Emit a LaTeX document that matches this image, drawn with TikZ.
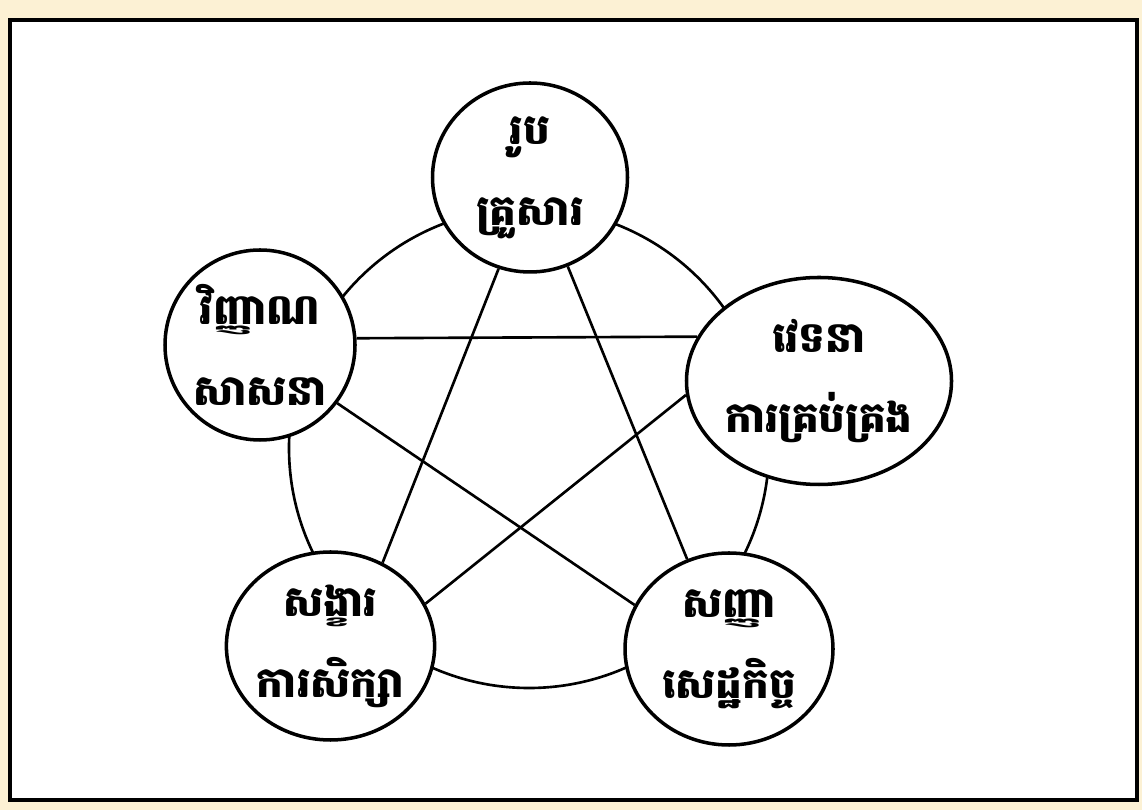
\documentclass[tikz,border=0pt]{standalone}
\usepackage{fontspec}
\newfontfamily\khmerfont[Script=Khmer]{Battambang}
\usetikzlibrary{shapes.geometric}
\definecolor{paper}{HTML}{FCF1D4}

\begin{document}
\begin{tikzpicture}[every node/.style={font=\khmerfont\bfseries\fontsize{24}{46}\selectfont},skandha/.style={ellipse,draw,line width=2pt,fill=white,align=center,inner sep=0pt},link/.style={line width=1.5pt}]
\fill[paper] (0,0) rectangle (22.84,16.2);
\draw[line width=2pt,fill=white] (0.2,0.2) rectangle (22.74,15.8);
\coordinate (hub) at (10.58,7.24);
\draw[link] (hub) circle (4.8);
\node[skandha,minimum width=3.9cm,minimum height=3.78cm] (rupa) at (10.6,12.65) {រូប\\គ្រួសារ};
\node[skandha,minimum width=3.8cm,minimum height=3.8cm] (vinnana) at (5.2,9.3) {វិញ្ញាណ\\សាសនា};
\node[skandha,minimum width=4.64cm,minimum height=4.14cm] (vedana) at (16.38,8.58) {វេទនា\\ការគ្រប់គ្រង};
\node[skandha,minimum width=4.1cm,minimum height=3.76cm] (sankhara) at (6.61,3.28) {សង្ខារ\\ការសិក្សា};
\node[skandha,minimum width=4.16cm,minimum height=3.84cm] (sanna) at (14.58,3.22) {សញ្ញា\\សេដ្ឋកិច្ច};
\draw[link] (rupa.251) -- (sankhara.58);\draw[link] (rupa.293) -- (sanna.115);\draw[link] (vinnana.4) -- (vedana.160);\draw[link] (vinnana.323) -- (sanna.155);\draw[link] (vedana.186) -- (sankhara.24);
\end{tikzpicture}
\end{document}
